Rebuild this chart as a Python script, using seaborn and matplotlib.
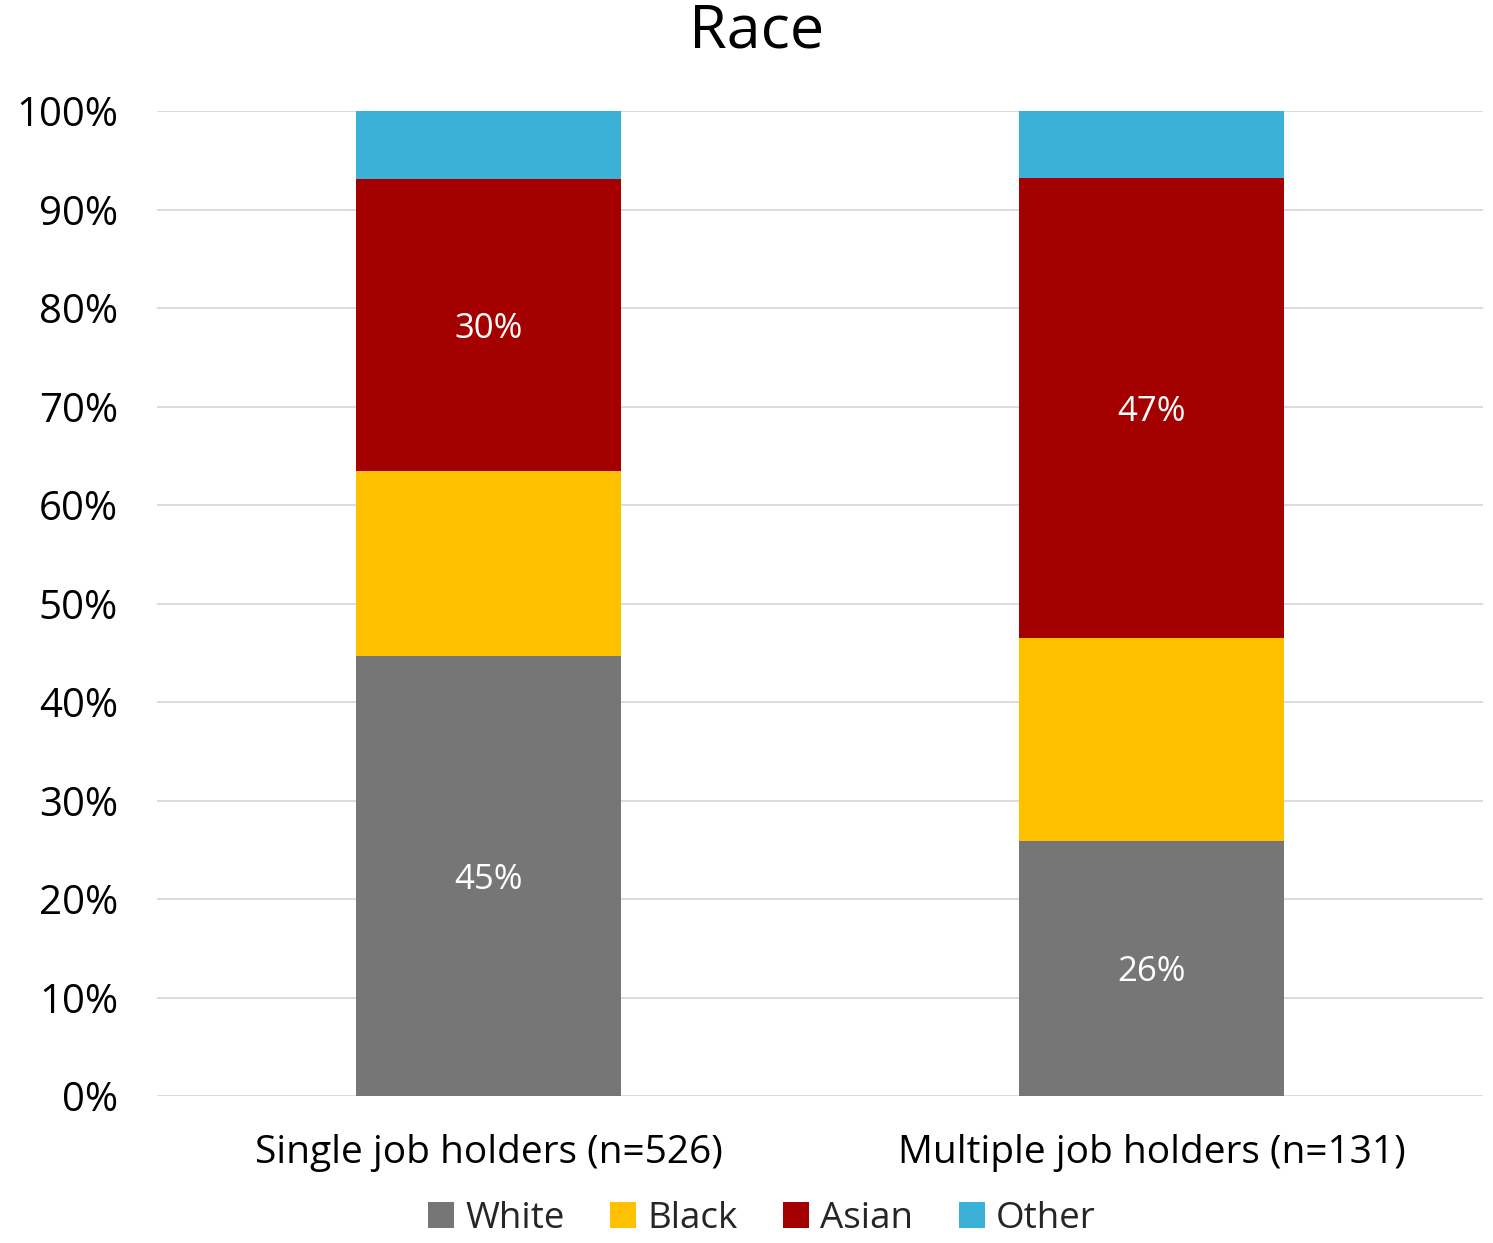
import matplotlib
matplotlib.use("Agg")
import matplotlib.pyplot as plt
import seaborn as sns
import numpy as np
from matplotlib.patches import Patch

categories = ["Single job holders (n=526)", "Multiple job holders (n=131)"]
series = ["White", "Black", "Asian", "Other"]
white = [44.7, 25.9]
black = [18.8, 20.6]
asian = [29.6, 46.7]
other = [6.9, 6.8]
colors = ["#767676", "#FFC000", "#A50000", "#3BB1D8"]
show_labels = {"White": True, "Black": False, "Asian": True, "Other": False}

sns.set_theme(style="white")
plt.rcParams['font.family'] = ['Open Sans', 'DejaVu Sans']

fig = plt.figure(figsize=(14.93, 12.43), dpi=100)
ax = fig.add_axes([157/1493, 147/1243, 1326/1493, 985/1243])

vals = [white, black, asian, other]
cum = np.cumsum(np.array(vals), axis=0)

for i in range(len(series) - 1, -1, -1):
    sns.barplot(x=categories, y=cum[i], color=colors[i], width=0.4,
                saturation=1, ax=ax, zorder=3, edgecolor="none", linewidth=0)

for i, s in enumerate(series):
    if not show_labels[s]:
        continue
    for j in range(len(categories)):
        bottom = cum[i][j] - vals[i][j]
        ax.text(j, bottom + vals[i][j] / 2, f"{round(vals[i][j])}%",
                ha="center", va="center_baseline", color="white", fontsize=25, zorder=5)

ax.set_ylim(0, 100)
ax.set_xlim(-0.5, 1.5)
ax.set_yticks(np.arange(0, 101, 10))
ax.set_yticklabels([f"{v}%" for v in range(0, 101, 10)])
ax.yaxis.grid(True, color="#D9D9D9", linewidth=1.3, zorder=0)
ax.set_axisbelow(True)
for sp in ax.spines.values():
    sp.set_visible(False)
ax.tick_params(axis="y", length=0, pad=28, labelsize=29, colors="black")
ax.tick_params(axis="x", length=0, pad=27, labelsize=28, colors="black")
ax.set_xlabel("")
ax.set_ylabel("")

fig.text(757/1493, 1 - 32/1243, "Race", ha="center", va="center", fontsize=44, color="black")

handles = [Patch(facecolor=c, edgecolor="none", label=s) for s, c in zip(series, colors)]
fig.legend(handles=handles, loc="center", bbox_to_anchor=(762/1493, 1 - 1219/1243),
           ncol=4, frameon=False, fontsize=26.5, handlelength=0.7, handleheight=0.7,
           handletextpad=0.3, columnspacing=1.25, borderpad=0.2)

fig.savefig("out.png", dpi=100)
